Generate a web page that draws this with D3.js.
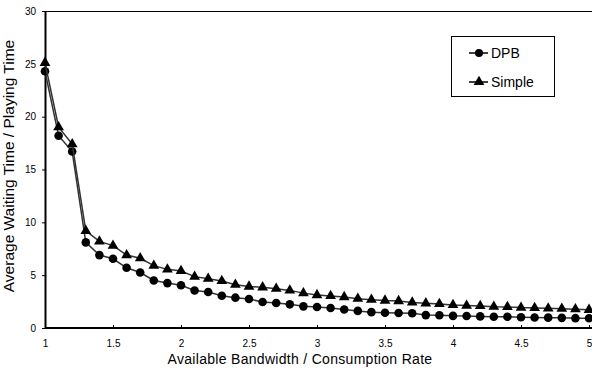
<!DOCTYPE html>
<html>
<head>
<meta charset="utf-8">
<script src="https://cdn.jsdelivr.net/npm/d3@7"></script>
<style>
  body { margin: 0; background: #fff; }
  text { font-family: "Liberation Sans", Arial, sans-serif; fill: #000; }
</style>
</head>
<body>
<svg width="592" height="373"></svg>
<script>
var xValues = [1, 1.1, 1.2, 1.3, 1.4, 1.5, 1.6, 1.7, 1.8, 1.9, 2, 2.1, 2.2, 2.3, 2.4, 2.5, 2.6, 2.7, 2.8, 2.9,
  3, 3.1, 3.2, 3.3, 3.4, 3.5, 3.6, 3.7, 3.8, 3.9, 4, 4.1, 4.2, 4.3, 4.4, 4.5, 4.6, 4.7, 4.8, 4.9, 5];
var dpb = [24.3, 18.2, 16.7, 8.1, 6.9, 6.55, 5.7, 5.25, 4.5, 4.25, 4.05, 3.55, 3.4, 3.05, 2.87, 2.74, 2.46, 2.37, 2.24, 2.05,
  1.99, 1.89, 1.75, 1.62, 1.5, 1.45, 1.42, 1.39, 1.22, 1.2, 1.15, 1.14, 1.1, 1.07, 1.06, 1.02, 1.0, 0.98, 0.96, 0.93, 0.92];
var simple = [25.1, 19.0, 17.4, 9.2, 8.2, 7.8, 6.9, 6.6, 5.9, 5.55, 5.4, 4.86, 4.67, 4.45, 4.1, 3.92, 3.85, 3.72, 3.56, 3.3,
  3.12, 3.03, 2.93, 2.77, 2.68, 2.6, 2.55, 2.42, 2.34, 2.27, 2.18, 2.12, 2.08, 2.02, 1.99, 1.93, 1.9, 1.86, 1.83, 1.78, 1.72];
var xTicks = [1, 1.5, 2, 2.5, 3, 3.5, 4, 4.5, 5];
var yTicks = [0, 5, 10, 15, 20, 25, 30];
var seriesNames = ["DPB", "Simple"];

var svg = d3.select("svg");
var plotLeft = 45, plotRight = 589, plotTop = 11, plotBottom = 328;

var xScale = d3.scaleLinear().domain([1, 5]).range([plotLeft, plotRight]);
var yScale = d3.scaleLinear().domain([0, 30]).range([plotBottom, plotTop]);

// top border
svg.append("line")
  .attr("x1", plotLeft).attr("x2", 592)
  .attr("y1", plotTop + 0.5).attr("y2", plotTop + 0.5)
  .attr("stroke", "#000").attr("stroke-width", 1);

// axes
var xAxis = svg.append("g")
  .attr("transform", "translate(0," + plotBottom + ")")
  .call(d3.axisBottom(xScale).tickValues(xTicks).tickSizeInner(-3).tickSizeOuter(0).tickPadding(12)
    .tickFormat(function (d) { return d; }));
xAxis.select(".domain").attr("stroke-width", 2).attr("d", "M" + plotLeft + ",0H592");
xAxis.selectAll("text").style("font-size", "10px");

var yAxis = svg.append("g")
  .attr("transform", "translate(" + plotLeft + ",0)")
  .call(d3.axisLeft(yScale).tickValues(yTicks).tickSizeInner(3).tickSizeOuter(0).tickPadding(6));
yAxis.select(".domain").attr("stroke-width", 2);
yAxis.selectAll("text").style("font-size", "10px");

// axis titles
svg.append("text")
  .attr("x", 300).attr("y", 364)
  .attr("text-anchor", "middle")
  .style("font-size", "14px")
  .style("letter-spacing", "0.3px")
  .text("Available Bandwidth / Consumption Rate");

svg.append("text")
  .attr("text-anchor", "middle")
  .attr("transform", "translate(14,166)rotate(-90)")
  .style("font-size", "15.5px")
  .text("Average Waiting Time / Playing Time");

var line = d3.line()
  .x(function (d, i) { return xScale(xValues[i]); })
  .y(function (d) { return yScale(d); });

var triangle = d3.symbol().type(d3.symbolTriangle).size(50);

[dpb, simple].forEach(function (vals, k) {
  svg.append("path")
    .datum(vals)
    .attr("d", line)
    .attr("fill", "none")
    .attr("stroke", "#333")
    .attr("stroke-width", 1.5);
  var g = svg.append("g");
  if (k === 0) {
    g.selectAll("circle").data(vals).enter().append("circle")
      .attr("cx", function (d, i) { return xScale(xValues[i]); })
      .attr("cy", function (d) { return yScale(d); })
      .attr("r", 4.3)
      .attr("fill", "#000");
  } else {
    g.selectAll("path").data(vals).enter().append("path")
      .attr("d", triangle)
      .attr("transform", function (d, i) { return "translate(" + xScale(xValues[i]) + "," + yScale(d) + ")"; })
      .attr("fill", "#000");
  }
});

// legend
var legend = svg.append("g");
legend.append("rect")
  .attr("x", 451.5).attr("y", 36.5).attr("width", 103).attr("height", 60)
  .attr("fill", "#fff").attr("stroke", "#000");
seriesNames.forEach(function (name, k) {
  var y = 53 + k * 29;
  legend.append("line")
    .attr("x1", 469).attr("x2", 488).attr("y1", y).attr("y2", y)
    .attr("stroke", "#000").attr("stroke-width", 1.5);
  if (k === 0) {
    legend.append("circle").attr("cx", 479).attr("cy", y).attr("r", 4).attr("fill", "#000");
  } else {
    legend.append("path").attr("d", triangle).attr("transform", "translate(479," + y + ")").attr("fill", "#000");
  }
  legend.append("text")
    .attr("x", 491).attr("y", y + 5)
    .style("font-size", "14px")
    .text(name);
});
</script>
</body>
</html>
